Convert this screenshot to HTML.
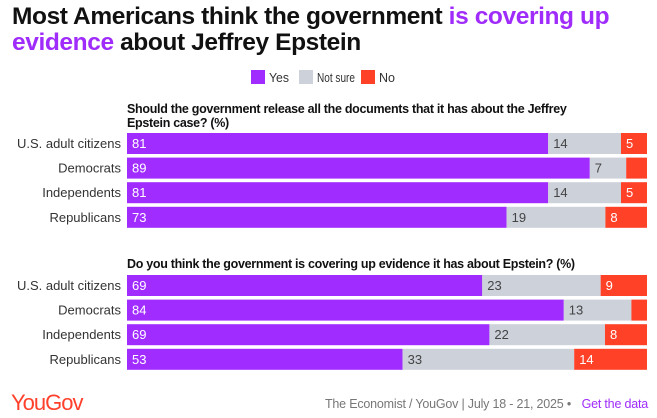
<!DOCTYPE html>
<html><head><meta charset="utf-8"><style>
body{margin:0;width:657px;height:418px;background:#fff;font-family:"Liberation Sans",sans-serif;overflow:hidden;position:relative}
.t{position:absolute;left:12px;top:4px;font-size:24.5px;font-weight:bold;line-height:26px;letter-spacing:-0.4px;color:#111}
.p{color:#a02cfb}
</style></head><body>
<div class="t">Most Americans think the government <span class="p">is covering up</span><br><span class="p">evidence</span> about Jeffrey Epstein</div>
<svg id="c" width="657" height="418" style="position:absolute;left:0;top:0"></svg>
<script>
const groups=["U.S. adult citizens","Democrats","Independents","Republicans"];
const q1Yes=[81,89,81,73];
const q1NotSure=[14,7,14,19];
const q1No=[5,4,5,8];
const q2Yes=[69,84,69,53];
const q2NotSure=[23,13,22,33];
const q2No=[9,3,8,14];
const q1Title=["Should the government release all the documents that it has about the Jeffrey","Epstein case? (%)"];
const q2Title=["Do you think the government is covering up evidence it has about Epstein? (%)"];
const colors=["#a12cff","#cdd1da","#ff4128"];
const NS="http://www.w3.org/2000/svg",svg=document.getElementById('c');
const x0=127,W=520;
function el(t,a,txt){const e=document.createElementNS(NS,t);for(const k in a)e.setAttribute(k,a[k]);if(txt!=null)e.textContent=txt;svg.appendChild(e);return e;}
// legend
const leg=[["Yes",251,20],["Not sure",299,38],["No",361,16]];
leg.forEach((l,i)=>{
 const r=el('rect',{x:l[1],y:70,width:14,height:14,fill:colors[i]});
 
 
 const t=el('text',{x:l[1]+18,y:82,'font-size':12.5,fill:'#333',textLength:l[2],lengthAdjust:'spacingAndGlyphs'},l[0]);
 
 
});
function panel(title,tY,rowY,yes,ns,no,id){
 title.forEach((s,i)=>{const t=el('text',{x:127,y:tY+i*14,'font-size':12.5,'font-weight':'bold',fill:'#111','letter-spacing':'-0.3'},s);
  
  });
 groups.forEach((g,i)=>{
  const y=rowY+i*24.6,h=21,vals=[yes[i],ns[i],no[i]];
  const tot=vals[0]+vals[1]+vals[2];
  const xs=v=>x0+v/tot*W;
  const lab=el('text',{x:121,y:y+15,'font-size':13,fill:'#333','text-anchor':'end'},g);
  
  
  let acc=0;
  vals.forEach((v,k)=>{
   const r=el('rect',{x:xs(acc),y:y,width:Math.max(0,xs(acc+v)-xs(acc)),height:h,fill:colors[k]});
   
   
   if(v>=5){
    const t=el('text',{x:xs(acc)+5,y:y+15,'font-size':13,fill:k==1?'#444':'#fff'},v);
    
    
   }
   acc+=v;
  });
 });
}
panel(q1Title,113,133,q1Yes,q1NotSure,q1No,'q1');
panel(q2Title,268,275,q2Yes,q2NotSure,q2No,'q2');
const logo=el('text',{x:11,y:410,'font-size':22,fill:'#ff412c','letter-spacing':'-1'},'YouGov');


const src=el('text',{x:571,y:408,'font-size':12.5,fill:'#777','text-anchor':'end','letter-spacing':'-0.2'},'The Economist / YouGov | July 18 - 21, 2025 •');


const gd=el('text',{x:648,y:408,'font-size':12.5,fill:'#a02cfb','text-anchor':'end','letter-spacing':'-0.2'},'Get the data');


</script>
</body></html>
